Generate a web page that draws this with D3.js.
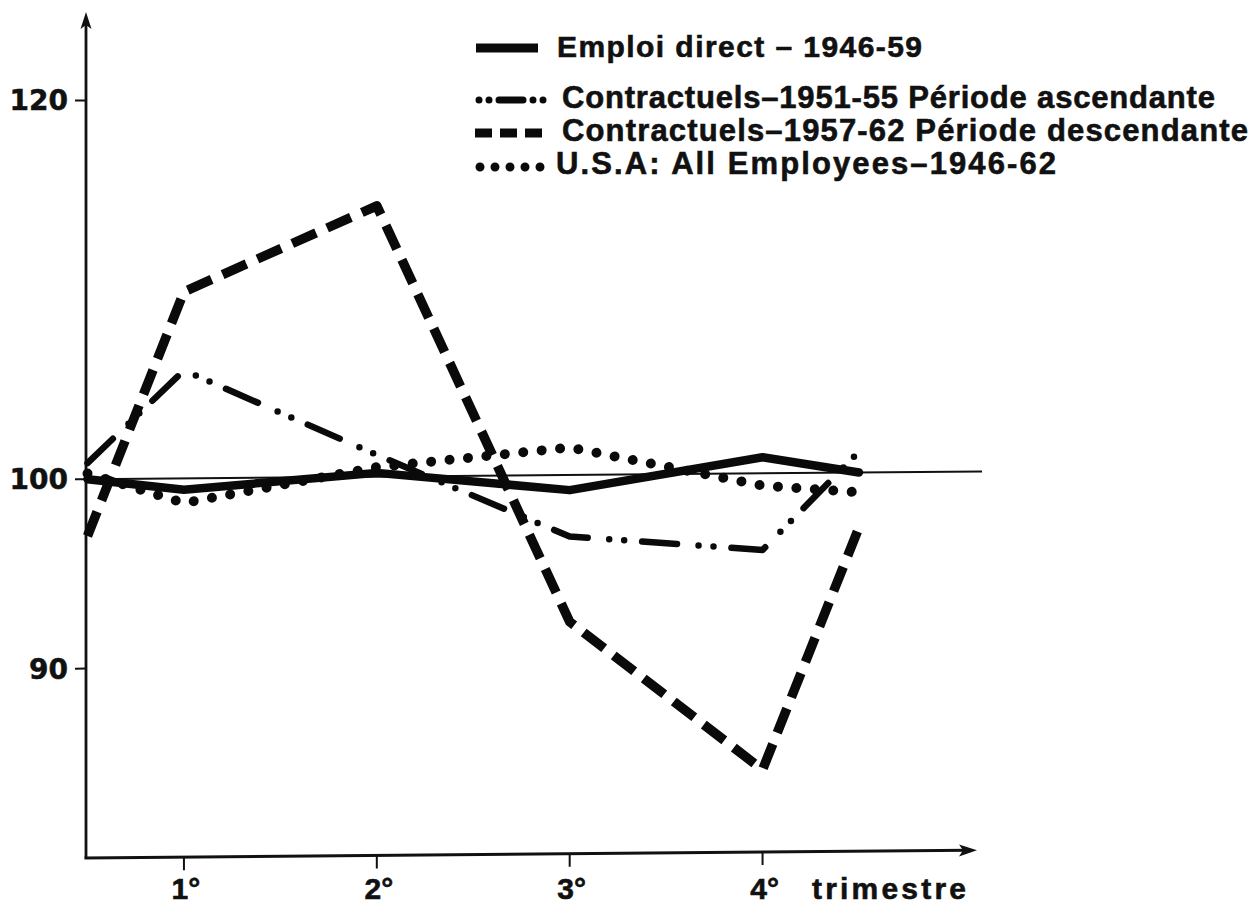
<!DOCTYPE html>
<html>
<head>
<meta charset="utf-8">
<script src="https://cdn.jsdelivr.net/npm/d3@7"></script>
<style>
  html, body { margin: 0; padding: 0; background: #fff; }
  svg { display: block; }
  .lbl { font-family: "Liberation Sans", Arial, sans-serif; font-weight: bold; fill: #111; stroke: #111; stroke-width: 0.6px; }
  .ytk { font-family: "DejaVu Sans", sans-serif; font-weight: bold; fill: #111; stroke: #111; stroke-width: 0.5px; }
  .xtk { font-family: "Liberation Sans Narrow", "Liberation Sans", sans-serif; font-weight: bold; fill: #111; stroke: #111; stroke-width: 0.6px; }
</style>
</head>
<body>
<svg id="chart" width="1252" height="906"></svg>
<script>
// Quarterly index (base 100) of employment, by series
const quarters = [0.5, 1, 2, 3, 4, 4.5];
const emploiDirect = [100.0, 99.4, 100.2, 99.2, 100.85, 100.0];
const contractuels5155 = [100.85, 105.7, 101.15, 96.75, 95.95, 101.1];
const contractuels5762 = [97.0, 109.85, 114.3, 92.25, 84.35, 97.1];
const usaAllEmployees = [100.3, 98.7, 100.5, 101.45, 99.35, 98.95];

const tickQuarters = [1, 2, 3, 4];
const tickLabels = ["1°", "2°", "3°", "4°"];
const yTickValues = [90, 100, 120];
const axisTitle = "trimestre";

const legendLabels = [
  "Emploi direct – 1946-59",
  "Contractuels–1951-55 Période ascendante",
  "Contractuels–1957-62 Période descendante",
  "U.S.A: All Employees–1946-62"
];

// ---- layout ----
const svg = d3.select("#chart");
const axisX = 86, axisBottom = 858, axisTop = 12, axisRight = 977;
const x = d3.scaleLinear().domain([0.5, 4.5]).range([87.5, 859]);
const y = d3.scaleLinear().domain([80, 120]).range([858, 100.4]);

// line styles for each series
const series = [
  { values: emploiDirect,     width: 8.5, dash: null,                 cap: "round" },
  { values: contractuels5155, width: 6.5, dash: "35 21.6 0 15 0 18",  cap: "round" },
  { values: contractuels5762, width: 9.5, dash: "26 12",              cap: "butt"  },
  { values: usaAllEmployees,  width: 10,  dash: "0 18.5",             cap: "round" }
];

// plot area is very slightly sheared, as on the printed page
const plot = svg.append("g")
  .attr("transform", `translate(${axisX},0) skewY(-0.5) translate(${-axisX},0)`);

// reference line at 100
plot.append("line")
  .attr("x1", axisX).attr("x2", 982)
  .attr("y1", y(100)).attr("y2", y(100))
  .attr("stroke", "#111").attr("stroke-width", 2);

// axes
plot.append("line")
  .attr("x1", axisX).attr("x2", axisX)
  .attr("y1", axisBottom + 1).attr("y2", axisTop + 8)
  .attr("stroke", "#111").attr("stroke-width", 2.8);
plot.append("path")
  .attr("d", `M${axisX},${axisTop} L${axisX - 5.5},${axisTop + 17} L${axisX},${axisTop + 13} L${axisX + 5.5},${axisTop + 17} Z`)
  .attr("fill", "#111");

plot.append("line")
  .attr("x1", axisX - 1.4).attr("x2", axisRight - 8)
  .attr("y1", axisBottom).attr("y2", axisBottom)
  .attr("stroke", "#111").attr("stroke-width", 3);
plot.append("path")
  .attr("d", `M${axisRight},${axisBottom} L${axisRight - 18},${axisBottom - 6} L${axisRight - 14},${axisBottom} L${axisRight - 18},${axisBottom + 6} Z`)
  .attr("fill", "#111");

// y ticks
plot.selectAll(".yt").data(yTickValues).enter().append("line")
  .attr("x1", axisX - 11).attr("x2", axisX)
  .attr("y1", d => y(d)).attr("y2", d => y(d))
  .attr("stroke", "#111").attr("stroke-width", 2);

// x ticks
plot.selectAll(".xt").data(tickQuarters).enter().append("line")
  .attr("x1", d => x(d)).attr("x2", d => x(d))
  .attr("y1", axisBottom).attr("y2", axisBottom + 13)
  .attr("stroke", "#111").attr("stroke-width", 2);

// series lines
const line = d3.line().x((d, i) => x(quarters[i])).y(d => y(d)).curve(d3.curveLinear);
series.forEach(s => {
  plot.append("path")
    .datum(s.values)
    .attr("d", line)
    .attr("fill", "none")
    .attr("stroke", "#0a0a0a")
    .attr("stroke-width", s.width)
    .attr("stroke-linejoin", "round")
    .attr("stroke-linecap", s.cap)
    .attr("stroke-dasharray", s.dash);
});

// y tick labels
svg.selectAll(".ytl").data(yTickValues).enter().append("text")
  .attr("class", "ytk")
  .attr("x", 68).attr("y", d => y(d) + 10)
  .attr("text-anchor", "end")
  .attr("font-size", 28)
  .text(d => d);

// x tick labels
svg.selectAll(".xtl").data(tickQuarters).enter().append("text")
  .attr("class", "xtk")
  .attr("x", d => x(d) + 2).attr("y", 899)
  .attr("text-anchor", "middle")
  .attr("font-size", 30)
  .text((d, i) => tickLabels[i]);

svg.append("text")
  .attr("class", "lbl")
  .attr("x", 812).attr("y", 899)
  .attr("font-size", 30)
  .attr("textLength", 154)
  .text(axisTitle);

// legend
const legendRows = [
  { y: 57,  size: 30, len: 365 },
  { y: 108, size: 31, len: 653 },
  { y: 141, size: 31, len: 686 },
  { y: 174, size: 31, len: 500 }
];
const legendTextX = [557, 562, 562, 556];
const legend = svg.append("g");
legendRows.forEach((r, i) => {
  legend.append("text")
    .attr("class", "lbl")
    .attr("x", legendTextX[i]).attr("y", r.y)
    .attr("font-size", r.size)
    .attr("textLength", r.len)
    .text(legendLabels[i]);
});

// legend keys
const keyY = legendRows.map(r => r.y - 9);
legend.append("line")
  .attr("x1", 476).attr("x2", 538).attr("y1", keyY[0]).attr("y2", keyY[0])
  .attr("stroke", "#0a0a0a").attr("stroke-width", 9);
legend.append("line")
  .attr("x1", 479).attr("x2", 545).attr("y1", keyY[1] + 1).attr("y2", keyY[1] + 1)
  .attr("stroke", "#0a0a0a").attr("stroke-width", 7).attr("stroke-linecap", "round")
  .attr("stroke-dasharray", "0 10 0 10 24 10 0 10 0 100");
legend.append("line")
  .attr("x1", 475).attr("x2", 542).attr("y1", keyY[2] + 1).attr("y2", keyY[2] + 1)
  .attr("stroke", "#0a0a0a").attr("stroke-width", 9)
  .attr("stroke-dasharray", "17 8");
legend.append("line")
  .attr("x1", 480).attr("x2", 541).attr("y1", keyY[3] + 2).attr("y2", keyY[3] + 2)
  .attr("stroke", "#0a0a0a").attr("stroke-width", 9).attr("stroke-linecap", "round")
  .attr("stroke-dasharray", "0 15");
</script>
</body>
</html>
